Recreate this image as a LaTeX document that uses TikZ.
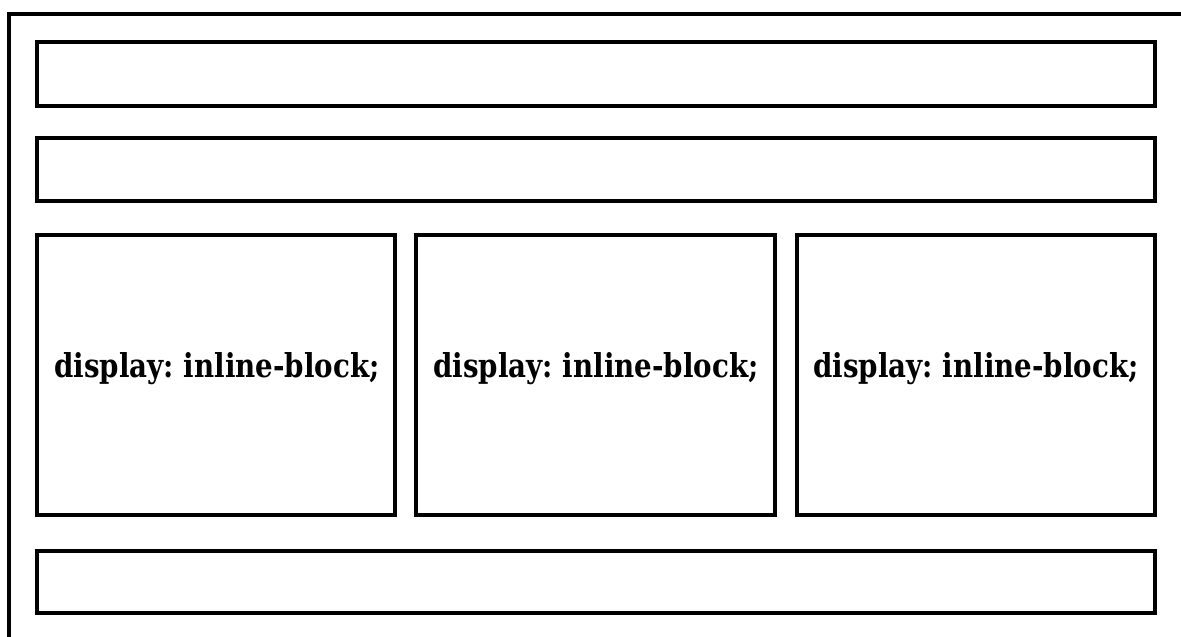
\documentclass[tikz,border=0pt]{standalone}
\usepackage{fontspec}
\setmainfont{DejaVu Serif}
\begin{document}
\begin{tikzpicture}[x=1pt,y=-1pt,
  box/.style={draw=black,line width=4pt,fill=white},
  frame/.style={draw=black,line width=4pt},
  lbl/.style={font=\fontsize{30.5}{33}\selectfont\bfseries\frenchspacing,anchor=base}]
\useasboundingbox (0,0) rectangle (1181,637);
\clip (0,0) rectangle (1181,637);
\draw[frame] (9,13.5) rectangle (1182.5,700);
\draw[box] (37,42) rectangle (1154.5,106) coordinate (b1);
\draw[box] (37,138) rectangle (1154.5,201) coordinate (b2);
\draw[box] (37,235) rectangle (395,515) coordinate (c1);
\draw[box] (416,235) rectangle (774.5,515) coordinate (c2);
\draw[box] (797,235) rectangle (1154.5,515) coordinate (c3);
\draw[box] (37,551) rectangle (1154.5,613) coordinate (b4);
\node[lbl] (t1) at (217,377) {\resizebox{325pt}{25pt}{display: inline-block;}};
\node[lbl] (t2) at (596,377) {\resizebox{325pt}{25pt}{display: inline-block;}};
\node[lbl] (t3) at (976,377) {\resizebox{325pt}{25pt}{display: inline-block;}};
\end{tikzpicture}
\end{document}
